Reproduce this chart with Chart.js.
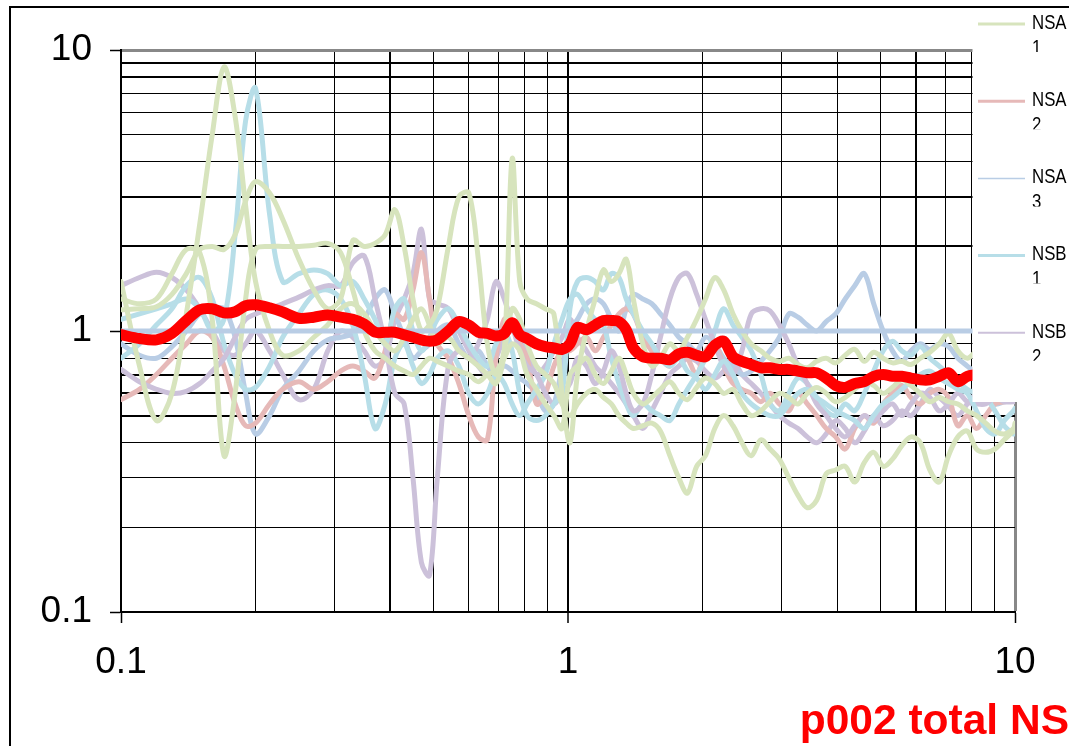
<!DOCTYPE html>
<html><head><meta charset="utf-8">
<script src="https://cdn.jsdelivr.net/npm/chart.js@4.4.1/dist/chart.umd.min.js"></script>
<style>html,body{margin:0;padding:0;background:#fff;overflow:hidden}</style>
</head><body>
<canvas id="c" width="1069" height="746"></canvas>
<script>
// ---------------- data ----------------
const FREQ = [
0.100,0.110,0.120,0.130,0.140,0.150,0.160,0.170,0.180,0.190,
0.200,0.215,0.230,0.250,0.270,0.290,0.310,0.330,0.350,0.370,
0.390,0.410,0.430,0.450,0.470,0.490,0.510,0.540,0.570,0.600,
0.630,0.660,0.690,0.720,0.750,0.780,0.810,0.850,0.890,0.930,
0.970,1.010,1.050,1.100,1.150,1.200,1.250,1.300,1.350,1.400,
1.470,1.540,1.610,1.690,1.770,1.850,1.940,2.030,2.130,2.230,
2.340,2.450,2.570,2.700,2.830,2.970,3.120,3.270,3.430,3.600,
3.780,3.970,4.170,4.380,4.600,4.830,5.070,5.320,5.580,5.850,
6.140,6.450,6.770,7.100,7.450,7.820,8.200,8.600,9.020,9.460,
9.920,10.00];

const TOTAL_NS = [
0.97,0.94,0.93,0.98,1.09,1.19,1.20,1.16,1.17,1.23,
1.24,1.21,1.17,1.11,1.12,1.14,1.12,1.10,1.06,0.99,
0.99,0.99,0.97,0.95,0.93,0.92,0.93,1.00,1.08,1.05,
0.99,0.98,0.96,0.98,1.07,0.97,0.94,0.90,0.88,0.87,
0.86,0.90,1.03,1.01,1.05,1.09,1.09,1.08,1.01,0.87,
0.81,0.80,0.80,0.79,0.83,0.84,0.82,0.81,0.89,0.92,
0.81,0.78,0.76,0.74,0.74,0.73,0.73,0.72,0.71,0.71,
0.68,0.64,0.63,0.65,0.66,0.69,0.70,0.69,0.69,0.68,
0.67,0.67,0.69,0.71,0.66,0.69,0.70,0.71,0.70,0.69,
0.70,0.70];

const NSA1 = [
1.50,0.75,0.48,0.60,1.15,2.40,5.00,8.70,5.80,2.80,
1.50,1.00,0.82,0.85,0.95,1.05,1.20,1.25,1.15,1.00,
0.90,0.85,0.95,1.10,1.20,1.05,0.90,0.95,0.85,0.80,
0.75,0.70,0.65,0.85,4.10,1.50,1.30,1.25,1.20,1.15,
0.60,0.40,0.70,1.00,1.30,1.65,1.50,1.60,1.80,1.30,
0.90,0.75,0.80,0.90,0.85,0.95,1.10,1.30,1.55,1.40,
1.15,1.00,0.90,0.85,0.80,0.78,0.80,0.76,0.74,0.78,
0.80,0.77,0.82,0.86,0.78,0.84,0.80,0.77,0.78,0.76,
0.80,0.84,0.90,0.98,0.85,0.80,0.85,0.90,0.88,0.92,
0.95,0.95];

const NSA2 = [
0.57,0.62,0.70,0.80,0.90,1.00,0.95,0.75,0.55,0.46,
0.47,0.55,0.62,0.66,0.62,0.66,0.72,0.75,0.72,0.68,
0.85,1.15,1.10,1.40,1.90,1.30,0.90,0.80,0.65,0.50,
0.42,0.41,0.80,1.10,1.05,0.90,0.80,0.55,0.60,0.75,
0.85,0.85,0.90,0.95,0.85,0.95,1.05,1.15,1.20,1.15,
0.95,0.85,0.80,0.75,0.85,0.80,0.70,0.85,0.90,0.75,
0.65,0.62,0.60,0.56,0.60,0.55,0.52,0.60,0.55,0.50,
0.45,0.42,0.38,0.45,0.50,0.47,0.55,0.60,0.64,0.58,
0.55,0.60,0.62,0.58,0.46,0.50,0.45,0.50,0.55,0.56,
0.57,0.57];

const NSA3 = [
0.90,0.82,0.80,0.88,1.00,1.15,1.20,1.20,0.95,0.60,
0.43,0.50,0.62,0.72,0.85,0.93,0.95,0.98,1.10,1.30,
1.40,1.15,0.95,0.80,0.85,0.90,1.00,1.05,0.90,0.80,
0.85,0.75,0.70,0.75,0.72,0.68,0.65,0.60,0.52,0.55,
0.75,1.00,1.10,1.25,1.30,1.25,1.10,1.00,1.20,1.35,
1.30,1.25,1.15,1.05,0.95,0.90,0.85,0.95,0.90,0.80,
0.75,0.70,0.72,0.78,0.85,0.95,1.15,1.12,1.05,1.00,
1.08,1.15,1.30,1.45,1.60,1.25,1.00,0.85,0.78,0.85,
0.90,0.86,0.90,0.88,0.80,0.75,0.70,0.60,0.55,0.56,
0.57,0.57];

const NSB1 = [
1.10,1.15,1.20,1.25,1.30,1.20,1.00,1.10,2.20,5.60,
7.30,2.60,1.50,1.60,1.65,1.60,1.45,1.50,1.30,1.10,
0.90,1.20,1.30,1.00,0.85,0.95,1.10,1.20,1.05,0.90,
0.80,0.75,0.90,1.00,0.85,0.60,0.50,0.48,0.50,0.55,
0.60,1.20,1.50,1.55,1.50,1.40,1.60,1.55,1.30,1.15,
1.00,0.90,0.80,0.75,0.80,0.72,0.68,0.62,0.70,0.78,
0.70,0.60,0.55,0.52,0.50,0.50,0.55,0.60,0.62,0.58,
0.55,0.52,0.50,0.48,0.45,0.50,0.55,0.58,0.62,0.66,
0.70,0.72,0.68,0.65,0.62,0.60,0.52,0.45,0.43,0.48,
0.52,0.53];

const NSB2 = [
0.73,0.66,0.62,0.60,0.61,0.65,0.72,0.80,0.95,1.10,
1.15,1.20,1.25,1.32,1.40,1.45,1.45,1.75,1.85,1.30,
0.90,0.60,0.55,0.30,0.15,0.135,0.30,0.75,0.85,0.80,
0.90,1.10,1.50,1.30,1.05,0.85,0.75,0.70,0.60,0.55,
0.60,0.65,0.80,0.75,0.65,0.72,0.85,0.75,0.60,0.52,
0.55,0.70,0.95,1.30,1.55,1.60,1.35,1.10,0.90,0.75,
0.70,0.85,1.15,1.20,1.18,1.05,0.90,0.75,0.65,0.55,
0.50,0.45,0.42,0.46,0.50,0.48,0.52,0.55,0.50,0.55,
0.60,0.58,0.52,0.55,0.60,0.56,0.55,0.55,0.58,0.56,
0.56,0.56];

const NSB3 = [
1.19,1.20,1.22,1.35,1.60,1.95,2.00,1.95,2.20,2.90,
3.40,3.10,2.50,1.80,1.40,1.20,1.30,2.10,2.00,2.05,
2.20,2.70,2.00,1.30,1.00,1.05,1.20,2.00,3.00,3.10,
1.80,0.90,0.70,0.85,1.20,1.10,0.90,0.75,0.70,0.65,
0.55,0.50,0.55,0.60,0.62,0.58,0.55,0.50,0.47,0.45,
0.46,0.47,0.44,0.36,0.30,0.265,0.33,0.36,0.45,0.50,
0.46,0.40,0.36,0.41,0.38,0.35,0.30,0.26,0.235,0.25,
0.31,0.32,0.33,0.29,0.34,0.37,0.33,0.35,0.39,0.42,
0.40,0.32,0.29,0.36,0.42,0.44,0.38,0.37,0.38,0.41,
0.44,0.44];

const NSC1 = [
1.30,1.25,1.30,1.60,1.95,1.90,1.10,0.36,0.60,1.30,
1.95,2.00,2.00,2.00,2.02,2.05,1.90,1.40,1.00,0.85,
0.80,0.75,0.72,0.70,0.75,0.80,0.78,0.75,0.72,0.70,
0.66,0.70,0.72,0.80,0.90,0.85,0.70,0.62,0.55,0.50,
0.45,0.70,0.75,0.80,0.70,0.65,0.72,0.80,0.70,0.60,
0.55,0.58,0.62,0.66,0.60,0.57,0.63,0.68,0.65,0.60,
0.62,0.55,0.50,0.52,0.56,0.60,0.58,0.55,0.60,0.63,
0.60,0.56,0.58,0.62,0.66,0.64,0.60,0.63,0.67,0.64,
0.60,0.56,0.58,0.56,0.55,0.52,0.50,0.47,0.44,0.43,
0.45,0.47];

const NSC2 = [
0.80,0.90,1.05,1.20,1.45,1.55,1.30,0.90,0.70,0.62,
0.63,0.75,0.95,1.15,1.35,1.40,1.30,1.05,0.70,0.45,
0.55,0.80,0.90,0.75,0.65,0.70,0.80,0.85,0.75,0.60,
0.55,0.60,0.70,0.65,0.55,0.50,0.55,0.62,0.70,0.90,
1.10,1.30,1.35,1.20,1.10,1.05,0.80,0.65,0.55,0.50,
0.55,0.52,0.50,0.48,0.55,0.62,0.70,0.80,1.00,1.20,
1.05,0.95,0.85,0.70,0.55,0.52,0.60,0.68,0.65,0.58,
0.52,0.50,0.55,0.52,0.60,0.72,0.85,0.92,0.85,0.82,
0.88,0.80,0.75,0.70,0.66,0.62,0.60,0.58,0.52,0.46,
0.43,0.43];

const NSC3 = [
1.45,1.55,1.62,1.55,1.40,1.20,1.00,0.85,0.82,0.90,
1.00,0.85,0.70,0.57,0.62,0.85,1.00,0.95,0.85,0.75,
0.80,1.10,1.30,1.60,2.30,1.30,1.25,1.20,1.00,0.85,
0.75,0.70,0.80,0.95,1.05,1.00,0.85,0.70,0.75,0.85,
0.95,1.10,0.95,0.85,0.75,0.70,0.65,0.60,0.55,0.50,
0.45,0.52,0.60,0.70,0.75,0.80,0.78,0.72,0.68,0.72,
0.78,0.70,0.65,0.60,0.55,0.50,0.47,0.45,0.42,0.40,
0.43,0.48,0.45,0.40,0.44,0.50,0.46,0.48,0.52,0.50,
0.55,0.62,0.58,0.54,0.50,0.55,0.60,0.62,0.60,0.58,
0.57,0.57];

const REF_FREQ = [0.1, 10];
const REF_VALUES = [1, 1];

const AXIS_TICKS = [0.1,0.2,0.3,0.4,0.5,0.6,0.7,0.8,0.9,1,2,3,4,5,6,7,8,9,10];
const AXIS_LABELS = [0.1, 1, 10];
const LEGEND_NAMES = ['NSA 1','NSA 2','NSA 3','NSB 1','NSB 2'];
const TITLE_TEXT = 'p002 total NS';

// ---------------- styles ----------------
const C = {green:'#D7E4BD', pink:'#E6B9B8', steel:'#B9CDE5', aqua:'#B7DEE8', purple:'#CCC1DA', red:'#FF0000'};
const Y_BOLD = [9,8,3,2,0.7,0.6,0.5];
const X_BOLD = [0.4,1,6];
const FONT = "'Liberation Sans', Arial, sans-serif";

function pts(xs, ys){ return xs.map((x,i)=>({x:x, y:ys[i]})); }
function thin(label, ys, color, order, legendW){
  return {label, data: pts(FREQ, ys), borderColor: color, backgroundColor: color,
    borderWidth: 5, pointRadius: 0, tension: 0.35, fill: false, order, legendW,
    borderJoinStyle: 'round', borderCapStyle: 'round'};
}

const datasets = [
  thin('NSA 1', NSA1, C.green, 2, 3),
  thin('NSA 2', NSA2, C.pink, 8, 3),
  thin('NSA 3', NSA3, C.steel, 9, 1.5),
  thin('NSB 1', NSB1, C.aqua, 5, 3),
  thin('NSB 2', NSB2, C.purple, 6, 2),
  thin('NSB 3', NSB3, C.green, 3),
  thin('NSC 1', NSC1, C.green, 4),
  thin('NSC 2', NSC2, C.aqua, 7),
  thin('NSC 3', NSC3, C.purple, 10),
  {label:'Ref', data: pts(REF_FREQ, REF_VALUES), borderColor: C.steel, borderWidth: 5,
   pointRadius: 0, tension: 0, order: 1},
  {label: TITLE_TEXT, data: pts(FREQ, TOTAL_NS), borderColor: C.red, borderWidth: 11,
   pointRadius: 0, tension: 0.3, order: 0, borderJoinStyle: 'round', borderCapStyle: 'round'}
];

function setTicks(scale){ scale.ticks = AXIS_TICKS.map(v => ({value: v})); }
function lab(v){ return AXIS_LABELS.includes(v) ? String(v) : ''; }

const overlay = {
  id: 'overlay',
  beforeDraw(chart){
    const ctx = chart.ctx;
    ctx.save(); ctx.fillStyle = '#fff'; ctx.fillRect(0,0,chart.width,chart.height); ctx.restore();
  },
  afterDraw(chart){
    const ctx = chart.ctx;
    ctx.save();
    // legend box (white, overlapping the plot's right edge)
    ctx.fillStyle = '#fff';
    ctx.fillRect(972.5, 8, 110, 394);
    LEGEND_NAMES.forEach((name, i) => {
      const ds = chart.data.datasets.find(d => d.label === name);
      const y = 24 + i * 77.2;
      ctx.strokeStyle = ds.borderColor;
      ctx.lineWidth = ds.legendW || 3;
      ctx.beginPath(); ctx.moveTo(978, y); ctx.lineTo(1025, y); ctx.stroke();
      const parts = name.split(' ');
      ctx.fillStyle = '#000';
      ctx.font = '21px ' + FONT;
      ctx.textBaseline = 'middle';
      ctx.textAlign = 'left';
      ctx.save(); ctx.translate(1032, y - 1); ctx.scale(0.8, 1); ctx.fillText(parts[0], 0, 0); ctx.restore();
      ctx.save();
      ctx.beginPath(); ctx.rect(1025, y + 10, 50, 18); ctx.clip();
      ctx.translate(1032, y + 24); ctx.scale(0.8, 1); ctx.fillText(parts[1], 0, 0);
      ctx.restore();
    });
    // outer frame
    ctx.strokeStyle = '#000'; ctx.lineWidth = 2;
    ctx.strokeRect(10, 7, 1200, 900);
    ctx.restore();
  }
};

new Chart(document.getElementById('c'), {
  type: 'line',
  data: { datasets },
  plugins: [overlay],
  options: {
    responsive: false, animation: false, devicePixelRatio: 1,
    layout: { padding: {top: 50, left: 0, right: 0, bottom: 0} },
    plugins: {
      legend: { display: false },
      tooltip: { enabled: false },
      title: { display: true, text: TITLE_TEXT, position: 'bottom', align: 'end',
        color: C.red, padding: 0, font: {family: FONT, size: 42.5, weight: 'bold', lineHeight: 1.1} }
    },
    scales: {
      x: {
        type: 'logarithmic', position: 'bottom', min: 0.1, max: 10,
        afterBuildTicks: setTicks,
        afterFit: s => { s.height = 87.25; },
        ticks: { autoSkip: false, maxRotation: 0, minRotation: 0, padding: 18, color: '#000',
          font: {family: FONT, size: 37}, callback: lab },
        grid: {
          color: c => (c.tick && c.tick.value === 10) ? '#888888' : '#000',
          lineWidth: c => (c.tick && c.tick.value === 10) ? 3 : (c.tick && X_BOLD.includes(c.tick.value) ? 2 : 1),
          tickColor: c => (c.tick && AXIS_LABELS.includes(c.tick.value)) ? '#000' : 'rgba(0,0,0,0)',
          tickLength: 11, tickWidth: 1.5
        },
        border: { color: '#000', width: 2 }
      },
      y: {
        type: 'logarithmic', position: 'left', min: 0.1, max: 10,
        afterBuildTicks: setTicks,
        afterFit: s => { s.width = 121; },
        ticks: { autoSkip: false, padding: 18, color: '#000',
          font: {family: FONT, size: 37}, callback: lab },
        grid: {
          color: c => (c.tick && c.tick.value === 10) ? '#888888' : '#000',
          lineWidth: c => (c.tick && c.tick.value === 10) ? 3 : (c.tick && Y_BOLD.includes(c.tick.value) ? 2 : 1),
          tickColor: c => (c.tick && AXIS_LABELS.includes(c.tick.value)) ? '#000' : 'rgba(0,0,0,0)',
          tickLength: 11, tickWidth: 1.5
        },
        border: { color: '#000', width: 2 }
      },
      yRight: {
        type: 'linear', position: 'right', display: true,
        afterFit: s => { s.width = 54; },
        ticks: { display: false }, grid: { display: false, drawTicks: false }, border: { display: false }
      }
    }
  }
});
</script>
</body></html>
